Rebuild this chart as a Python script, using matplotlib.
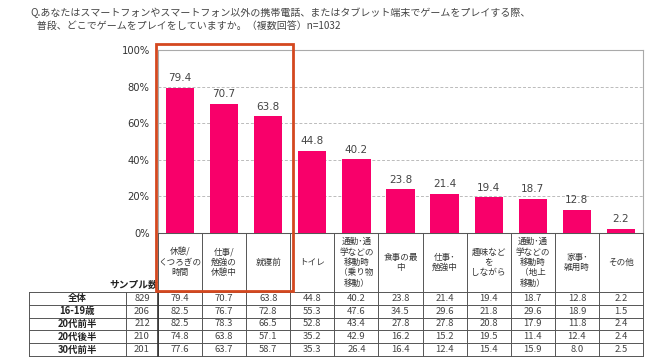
#!/usr/bin/env python3
"""Smartphone game play locations: bar chart with breakdown table."""

import matplotlib
matplotlib.use("Agg")
import matplotlib.pyplot as plt
import numpy as np

plt.rcParams["font.family"] = ["Noto Sans CJK JP", "DejaVu Sans"]

# ── data ──────────────────────────────────────────────────────────────
categories = [
    "休憩/\nくつろぎの\n時間", "仕事/\n勉強の\n休憩中", "就寝前", "トイレ",
    "通勤･通\n学などの\n移動時\n（乗り物\n移動）", "食事の最\n中", "仕事･\n勉強中",
    "趣味など\nを\nしながら", "通勤･通\n学などの\n移動時\n（地上\n移動）",
    "家事･\n雑用時", "その他",
]
total = [79.4, 70.7, 63.8, 44.8, 40.2, 23.8, 21.4, 19.4, 18.7, 12.8, 2.2]

row_labels = ["全体", "16-19歳", "20代前半", "20代後半", "30代前半"]
sample_sizes = [829, 206, 212, 210, 201]
age_16_19 = [82.5, 76.7, 72.8, 55.3, 47.6, 34.5, 29.6, 21.8, 29.6, 18.9, 1.5]
age_20_24 = [82.5, 78.3, 66.5, 52.8, 43.4, 27.8, 27.8, 20.8, 17.9, 11.8, 2.4]
age_25_29 = [74.8, 63.8, 57.1, 35.2, 42.9, 16.2, 15.2, 19.5, 11.4, 12.4, 2.4]
age_30_34 = [77.6, 63.7, 58.7, 35.3, 26.4, 16.4, 12.4, 15.4, 15.9, 8.0, 2.5]
table_rows = [total, age_16_19, age_20_24, age_25_29, age_30_34]

title = ("Q.あなたはスマートフォンやスマートフォン以外の携帯電話、またはタブレット端末でゲームをプレイする際、\n"
         "   普段、どこでゲームをプレイをしていますか。（複数回答）n=1032")

BAR = "#F8006A"
RED = "#D4481F"
W, H = 670, 363

fig = plt.figure(figsize=(W / 100, H / 100), dpi=100)

# pixel layout of the plot area
px_l, px_r, px_t, px_b = 158, 643, 50, 233
ax = fig.add_axes([px_l / W, 1 - px_b / H, (px_r - px_l) / W, (px_b - px_t) / H])

x = np.arange(len(categories))
ax.bar(x, total, width=0.64, color=BAR, zorder=3)
for xi, v in zip(x, total):
    ax.text(xi, v + 2.5, f"{v:.1f}", ha="center", va="bottom", fontsize=7.5,
            color="#444444", family="DejaVu Sans")

ax.set_xlim(-0.5, len(categories) - 0.5)
ax.set_ylim(0, 100)
ax.set_yticks([0, 20, 40, 60, 80, 100])
ax.set_yticklabels([f"{t}%" for t in range(0, 101, 20)], fontsize=7.2,
                   color="#333333", family="DejaVu Sans")
ax.tick_params(axis="y", length=0, pad=6)
ax.set_xticks([])
ax.yaxis.grid(True, linestyle=(0, (3, 2)), color="#BBBBBB", lw=0.7, zorder=0)
for s in ax.spines.values():
    s.set_color("#AAAAAA")
    s.set_linewidth(0.8)

# ── table overlay in pixel coordinates ────────────────────────────────
tx = fig.add_axes([0, 0, 1, 1])
tx.set_xlim(0, W)
tx.set_ylim(H, 0)
tx.axis("off")

col_edges = np.linspace(px_l, px_r, len(categories) + 1)
col_mid = (col_edges[:-1] + col_edges[1:]) / 2
lab_l, lab_r = 29, 126
hdr_b = 292
row_edges = np.linspace(hdr_b, 356, len(row_labels) + 1)
line_c = "#555555"

# header cells (category names)
for xe in col_edges:
    tx.plot([xe, xe], [px_b, hdr_b], color=line_c, lw=0.7)
tx.plot([px_l, px_r], [px_b, px_b], color=line_c, lw=0.7)
for xm, c in zip(col_mid, categories):
    tx.text(xm, (px_b + hdr_b) / 2, c, ha="center", va="center", fontsize=6.2,
            color="#333333", linespacing=1.2)
tx.text(px_l, hdr_b - 2, "サンプル数", ha="right", va="bottom", fontsize=7,
        color="#222222", fontweight="bold")

# data rows
for ye in row_edges:
    tx.plot([lab_l, px_r], [ye, ye], color=line_c, lw=0.7)
for xe in [lab_l, lab_r] + list(col_edges):
    tx.plot([xe, xe], [hdr_b, row_edges[-1]], color=line_c, lw=0.7)
tx.plot([px_l, px_l], [hdr_b, row_edges[-1]], color="#333333", lw=1.2)

for r, (lab, n, vals) in enumerate(zip(row_labels, sample_sizes, table_rows)):
    ym = (row_edges[r] + row_edges[r + 1]) / 2
    tx.text((lab_l + lab_r) / 2, ym, lab, ha="center", va="center",
            fontsize=6.8, color="#222222", fontweight="bold")
    tx.text((lab_r + px_l) / 2, ym, str(n), ha="center", va="center",
            fontsize=6.8, color="#444444")
    for xm, v in zip(col_mid, vals):
        tx.text(xm, ym, f"{v:.1f}", ha="center", va="center", fontsize=6.8,
                color="#444444")

# highlight box around the top three
tx.add_patch(plt.Rectangle((156, 44), 293 - 156, 291 - 44, fill=False,
                           ec=RED, lw=2.0, zorder=10))

fig.text(30 / W, 1 - 8 / H, title, ha="left", va="top", fontsize=7.2,
         color="#444444", linespacing=1.35)

fig.savefig("out.png", dpi=100)
